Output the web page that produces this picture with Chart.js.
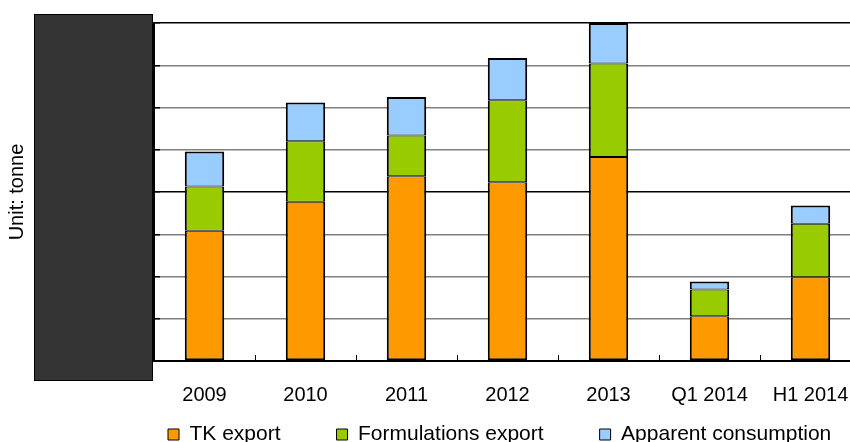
<!DOCTYPE html>
<html>
<head>
<meta charset="utf-8">
<script src="https://cdn.jsdelivr.net/npm/chart.js@4"></script>
<style>
  html, body { margin: 0; padding: 0; background: #fff; overflow: hidden; }
  #wrap { position: relative; width: 861px; height: 442px; }
</style>
</head>
<body>
<div id="wrap"><canvas id="tkChart"></canvas></div>
<script>
// categories and series (tonnes)
const periods = ['2009', '2010', '2011', '2012', '2013', 'Q1 2014', 'H1 2014'];
const tkExport = [3080, 3770, 4370, 4230, 4830, 1060, 1980];
const formulationsExport = [1050, 1430, 970, 1940, 2210, 630, 1270];
const apparentConsumption = [830, 920, 910, 1000, 960, 190, 430];
const yMax = 8000;
const yStep = 1000;

Chart.defaults.font.family = "'Liberation Sans', Arial, sans-serif";
Chart.defaults.font.size = 20;
Chart.defaults.color = '#000';

// grey box over the y tick labels
const coverBox = {
  id: 'coverBox',
  afterDraw(chart) {
    const ctx = chart.ctx;
    ctx.save();
    ctx.fillStyle = '#333333';
    ctx.fillRect(34, 14, 118, 366);
    ctx.strokeStyle = '#000';
    ctx.lineWidth = 1;
    ctx.strokeRect(34.5, 14.5, 118, 366);
    ctx.restore();
  }
};

// legend row starts under the first bar, not at the canvas edge
const legendShift = {
  id: 'legendShift',
  afterLayout(chart) {
    const lg = chart.legend;
    if (!lg) return;
    const w = lg.right - lg.left;
    lg.left = 112;
    lg.right = lg.left + w;
  }
};

// thin joins between stacked segments, thicker outline around the stack
function makeSet(label, data, color, top, bottom) {
  return {
    label,
    data,
    backgroundColor: color,
    borderColor: '#000',
    borderWidth: { top, bottom, left: 2, right: 2 },
    borderSkipped: false,
    barPercentage: 0.39,
    categoryPercentage: 1
  };
}

const ctx = document.getElementById('tkChart').getContext('2d');
new Chart(ctx, {
  type: 'bar',
  data: {
    labels: periods,
    datasets: [
      makeSet('TK export', tkExport, '#FF9900', 1, 2),
      makeSet('Formulations export', formulationsExport, '#99CC00', 1, 1),
      makeSet('Apparent consumption', apparentConsumption, '#99CCFF', 2, 1)
    ]
  },
  options: {
    responsive: true,
    maintainAspectRatio: false,
    animation: false,
    layout: { padding: { top: 23, bottom: -13, left: 0, right: 0 } },
    plugins: {
      tooltip: { enabled: false },
      legend: {
        position: 'bottom',
        align: 'start',
        labels: {
          boxWidth: 11,
          boxHeight: 11,
          padding: 56,
          font: { size: 21 },
          color: '#000',
          generateLabels: chart =>
            Chart.defaults.plugins.legend.labels.generateLabels(chart).map(l => ({ ...l, lineWidth: 1 }))
        }
      }
    },
    scales: {
      x: {
        stacked: true,
        afterFit: s => {
          s.height = 7;
          s.paddingLeft = 0;
          s.paddingRight = 0;
          s._computeLabelArea = () => undefined; // labels sit over the legend gap
        },
        border: { color: '#000', width: 2 },
        grid: { display: true, drawOnChartArea: false, offset: true, tickLength: -6, tickColor: '#000' },
        ticks: { color: '#000', padding: 28, maxRotation: 0, autoSkip: false }
      },
      y: {
        stacked: true,
        min: 0,
        max: yMax,
        afterFit: s => { s.width = 154; },
        border: { color: '#000', width: 2 },
        grid: {
          color: c => (c.tick && (c.tick.value === yMax || c.tick.value === yMax / 2)) ? '#000' : '#808080',
          lineWidth: 1.5,
          tickLength: -6,
          tickColor: '#000'
        },
        ticks: { stepSize: yStep, display: false },
        title: {
          display: true,
          text: 'Unit: tonne',
          color: '#000',
          padding: { top: 5, bottom: 4 }
        }
      }
    }
  },
  plugins: [coverBox, legendShift]
});
</script>
</body>
</html>
